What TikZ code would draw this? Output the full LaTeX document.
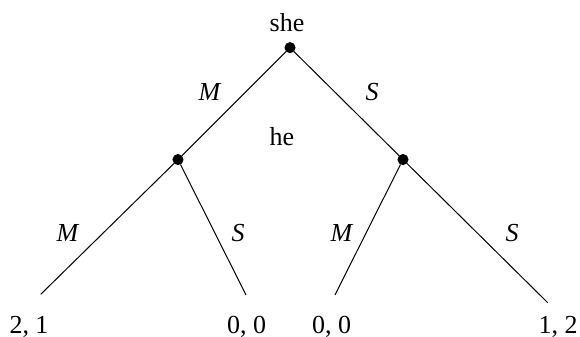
\documentclass[tikz,border=0pt]{standalone}
\usepackage{fontspec}
\setmainfont{Liberation Serif}
\begin{document}
\begin{tikzpicture}[line width=0.5pt, every node/.style={font=\fontsize{13}{15}\selectfont}]
  \tikzstyle{dec}=[draw, fill, circle, inner sep=0pt, minimum size=5pt]
  \useasboundingbox (0,0) rectangle (10.2,5.926);
  \node[dec] (r) at (5.10, 5.088) {};
  \node[dec] (a) at (3.13, 3.12) {}; \node[dec] (b) at (7.087, 3.12) {};
  \coordinate (aa) at (0.716, 0.750); \coordinate (ab) at (4.326, 0.739);
  \coordinate (ba) at (5.891, 0.739); \coordinate (bb) at (9.632, 0.603);
  \draw (r) -- (a); \draw (r) -- (b);
  \draw (a) -- (aa); \draw (a) -- (ab); \draw (b) -- (ba); \draw (b) -- (bb);
  \node (she) at (5.047, 5.522) {she};
  \node (he) at (4.959, 3.517) {he};
  \node at (3.693, 4.309) {\textit{M}}; \node at (6.542, 4.309) {\textit{S}};
  \node at (1.196, 1.829) {\textit{M}}; \node at (4.186, 1.829) {\textit{S}};
  \node at (6.014, 1.829) {\textit{M}}; \node at (9.004, 1.829) {\textit{S}};
  \node[anchor=base] (p1) at (0.510, 0.053) {2, 1};
  \node[anchor=base] (p2) at (4.335, 0.053) {0, 0};
  \node[anchor=base] (p3) at (5.830, 0.053) {0, 0};
  \node[anchor=base] (p4) at (9.813, 0.053) {1, 2};
\end{tikzpicture}
\end{document}
